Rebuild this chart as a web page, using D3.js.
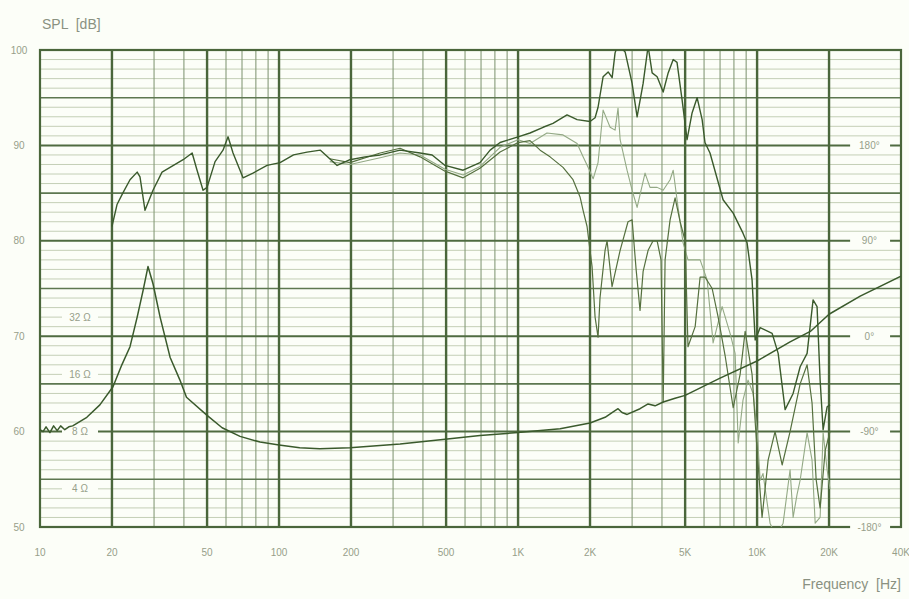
<!DOCTYPE html>
<html>
<head>
<meta charset="utf-8">
<script src="https://cdn.jsdelivr.net/npm/d3@7"></script>
<style>
  html,body{margin:0;padding:0;background:#fcfef8;}
  svg{display:block;}
  text{font-family:"Liberation Sans Narrow","Liberation Sans",Arial,sans-serif;white-space:pre;}
</style>
</head>
<body>
<svg id="chart" width="909" height="599"></svg>
<script>
// ---------------- DATA ----------------
const xTickValues = [10,20,50,100,200,500,1000,2000,5000,10000,20000,40000];
const xTickLabels = ["10","20","50","100","200","500","1K","2K","5K","10K","20K","40K"];
const yTickValues = [50,60,70,80,90,100];
const yTickLabels = ["50","60","70","80","90","100"];
const phaseLevels = [50,60,70,80,90];
const phaseLabels = ["-180°","-90°","0°","90°","180°"];
const ohmLevels = [54,60,66,72];
const ohmLabels = ["4 Ω","8 Ω","16 Ω","32 Ω"];

// SPL on-axis (dark)
const splA_f = [20,21,22.2,23.8,25.5,26.2,27.5,29.7,32.4,35,39.7,43.3,45.4,48.1,50,54,58.3,61.2,64.2,70.7,77.8,89.1,101,115,131,149,175,198,229,265,321,389,437,495,589,693,764,841,1000,1122,1273,1400,1603,1766,2000,2100,2161,2269,2382,2475,2546,2620,2805,3000,3148,3336,3500,3639,3818,4047,4246,4457,4624,4854,5093,5346,5611,5890,6053,6353,7206,7943,8730,9078,9528,9817,10300,11560,12250,13100,14150,15140,16190,17150,17820,18350,18890,19630,20180];
const splA_db = [81.5,83.8,85.0,86.4,87.2,86.7,83.2,85.3,87.2,87.7,88.5,89.2,87.4,85.3,85.6,88.3,89.5,90.9,89.2,86.6,87.1,87.9,88.2,89.0,89.3,89.5,87.9,88.5,88.8,89.0,89.5,89.2,89.0,87.9,87.4,88.2,89.5,90.3,90.9,91.3,91.9,92.3,93.2,92.7,92.5,92.9,94.0,97.2,97.7,97.1,99.7,100.6,99.8,96.5,93.0,96.5,100.4,97.6,97.2,95.6,97.6,99.0,98.7,94.8,90.6,93.4,95.0,92.7,90.3,89.2,84.3,82.9,80.8,79.8,75.9,69.6,70.9,70.3,68.2,62.3,64.0,66.8,68.2,73.8,73.1,65.4,60.2,62.6,62.8];

// SPL 30 deg (light)
const splB_f = [163,198,265,321,389,495,589,693,841,1000,1122,1321,1542,1766,1871,1963,2061,2161,2269,2427,2546,2620,2673,2857,3000,3148,3398,3565,3818,4047,4325,4457,4670,4900,5140,5776,6180,6546,7139,7709,8091,8337,8730,9165,9622,10000,10300,10590,11330,12000,12850,13740,14150,14690,15140,16190,16980,17500,18350,18890,19630,20180];
const splB_db = [88.3,88.0,88.7,89.2,89.0,87.5,86.9,87.8,89.8,90.6,90.2,91.3,91.1,90.2,88.8,87.7,86.5,88.2,93.7,91.9,91.6,93.9,90.6,87.4,85.3,83.5,87.1,85.6,85.6,85.3,86.4,87.4,83.5,79.8,78.0,78.0,75.9,69.3,73.1,70.3,68.2,58.8,63.3,65.4,64.0,60.2,54.9,55.6,50.4,49.0,50.4,56.0,51.0,53.4,54.9,59.9,57.0,50.4,51.0,59.9,56.0,54.0];

// SPL 60 deg (medium)
const splC_f = [163,198,265,321,389,495,589,693,841,1000,1122,1237,1361,1542,1698,1817,1871,1944,2000,2040,2100,2161,2202,2312,2357,2473,2673,2884,3000,3118,3238,3336,3500,3672,3818,3963,4047,4122,4325,4539,4764,5000,5140,5507,5776,6053,6486,6871,7345,7943,8492,8913,9528,10000,10490,11120,11890,12730,13740,15140,16190,16980,17660,18350,19270,20180];
const splC_db = [88.6,88.2,89.2,89.7,88.8,87.3,86.6,87.6,89.3,90.3,90.5,89.5,88.8,87.7,86.4,84.6,83.2,81.5,79.0,77.3,72.0,69.9,74.0,79.0,80.0,75.2,79.0,82.0,82.2,77.0,72.7,76.8,79.0,80.0,80.0,78.0,63.1,78.0,82.2,84.5,82.0,80.0,68.9,71.0,76.2,76.2,75.0,72.0,68.0,62.5,66.0,70.5,66.0,58.0,51.0,57.0,60.0,56.5,60.0,65.0,67.0,63.0,55.0,52.0,58.0,60.0];

// Impedance (plotted on the dB scale, 8 ohm = 60 dB)
const imp_f = [10,10.3,10.6,11,11.4,11.8,12.2,12.7,13.2,13.7,15.7,17.8,20.2,22,23.8,25.5,27,28.3,29.7,31.8,35,38.5,41,50,57.8,68.7,83.3,100,122,148,198,321,495,693,1000,1500,2000,2313,2473,2620,2722,2860,3238,3500,3743,4050,4539,5000,7000,10000,13740,16700,20000,27000,40000];
const imp_db = [60.2,60.0,60.5,59.9,60.6,60.1,60.6,60.2,60.5,60.6,61.5,62.8,64.7,67.0,68.9,72.0,74.8,77.3,75.5,72.0,67.8,65.4,63.6,61.7,60.4,59.5,58.9,58.6,58.3,58.2,58.3,58.7,59.2,59.6,59.9,60.3,60.9,61.5,62.0,62.4,62.0,61.8,62.4,62.9,62.7,63.1,63.5,63.8,65.6,67.4,69.4,70.5,72.3,74.2,76.3];

const minorFreqs = [];
[10,100,1000,10000].forEach(d => [3,4,6,7,8,9].forEach(m => { if (d*m < 20000) minorFreqs.push(d*m); }));
const majorFreqs = [20,50,100,200,500,1000,2000,5000,10000,20000];

// ---------------- CHART ----------------
const svg = d3.select("#chart");
const W = 909, H = 599;
const L = 40, R = 901, T = 50, B = 527;
const x = d3.scaleLog().domain([10,40000]).range([L,R]);
const y = d3.scaleLinear().domain([50,100]).range([B,T]);
const bgCol = "#fcfef8";

svg.append("rect").attr("width",W).attr("height",H).attr("fill",bgCol);

const grid = svg.append("g");
// 1 dB horizontal lines
grid.selectAll(".h1").data(d3.range(51,100).filter(v => v % 5 !== 0)).join("line")
  .attr("x1",L).attr("x2",R).attr("y1",d=>y(d)).attr("y2",d=>y(d))
  .attr("stroke","#c4cfb6").attr("stroke-width",1);
// minor vertical
grid.selectAll(".vm").data(minorFreqs).join("line")
  .attr("x1",d=>x(d)).attr("x2",d=>x(d)).attr("y1",T).attr("y2",B)
  .attr("stroke","#869a79").attr("stroke-width",1.1);
// 5 dB lines
grid.selectAll(".h5").data([55,65,75,85,95]).join("line")
  .attr("x1",L).attr("x2",R).attr("y1",d=>y(d)).attr("y2",d=>y(d))
  .attr("stroke","#5d7750").attr("stroke-width",1.6);
// 10 dB lines
grid.selectAll(".h10").data([60,70,80,90]).join("line")
  .attr("x1",L).attr("x2",R).attr("y1",d=>y(d)).attr("y2",d=>y(d))
  .attr("stroke","#4f6b40").attr("stroke-width",2);
// major vertical
grid.selectAll(".vM").data(majorFreqs).join("line")
  .attr("x1",d=>x(d)).attr("x2",d=>x(d)).attr("y1",T).attr("y2",B)
  .attr("stroke","#4a663b").attr("stroke-width",2.4);
// border
grid.append("rect").attr("x",L).attr("y",T).attr("width",R-L).attr("height",B-T)
  .attr("fill","none").attr("stroke","#4a663b").attr("stroke-width",2.2);

// label backgrounds (interrupt grid lines)
svg.selectAll(".phbg").data(phaseLevels).join("rect")
  .attr("x",x(24500)).attr("width",x(36000)-x(24500))
  .attr("y",d=>y(d)-7).attr("height",14).attr("fill",bgCol);
svg.selectAll(".ohbg").data(ohmLevels).join("rect")
  .attr("x",62).attr("width",36)
  .attr("y",d=>y(d)-7).attr("height",14).attr("fill",bgCol);

// curves
svg.append("clipPath").attr("id","clip").append("rect")
  .attr("x",L).attr("y",T).attr("width",R-L).attr("height",B-T);
const line = d3.line().x(d=>x(d[0])).y(d=>y(d[1])).curve(d3.curveLinear);
const curves = svg.append("g").attr("clip-path","url(#clip)");
function addCurve(fs, dbs, color, w){
  curves.append("path").datum(d3.zip(fs,dbs)).attr("d",line)
    .attr("fill","none").attr("stroke",color).attr("stroke-width",w)
    .attr("stroke-linejoin","round");
}
addCurve(splB_f, splB_db, "#93a985", 1.1);
addCurve(splC_f, splC_db, "#55703f", 1.2);
addCurve(splA_f, splA_db, "#3a5a2c", 1.4);
addCurve(imp_f, imp_db, "#3a5a2c", 1.5);

// texts
const txt = "#979f8a";
svg.selectAll(".yt").data(yTickValues).join("text")
  .attr("x",19).attr("y",d=>y(d)+3.5).attr("text-anchor","middle")
  .attr("font-size",10).attr("fill",txt).text((d,i)=>yTickLabels[i]);
svg.selectAll(".xt").data(xTickValues).join("text")
  .attr("x",d=>x(d)).attr("y",556).attr("text-anchor","middle")
  .attr("font-size",10).attr("fill",txt).text((d,i)=>xTickLabels[i]);
svg.selectAll(".pt").data(phaseLevels).join("text")
  .attr("x",x(29500)).attr("y",d=>y(d)+3.5).attr("text-anchor","middle")
  .attr("font-size",10).attr("fill",txt).text((d,i)=>phaseLabels[i]);
svg.selectAll(".ot").data(ohmLevels).join("text")
  .attr("x",80).attr("y",d=>y(d)+3.5).attr("text-anchor","middle")
  .attr("font-size",10).attr("fill",txt).text((d,i)=>ohmLabels[i]);

svg.append("text").attr("x",42).attr("y",29).attr("font-size",14)
  .attr("fill","#8a9181").style("font-family","'Liberation Sans',Arial,sans-serif").text("SPL  [dB]");
svg.append("text").attr("x",901).attr("y",589).attr("text-anchor","end").attr("font-size",14)
  .attr("fill","#8a9181").style("font-family","'Liberation Sans',Arial,sans-serif").text("Frequency  [Hz]");
</script>
</body>
</html>
